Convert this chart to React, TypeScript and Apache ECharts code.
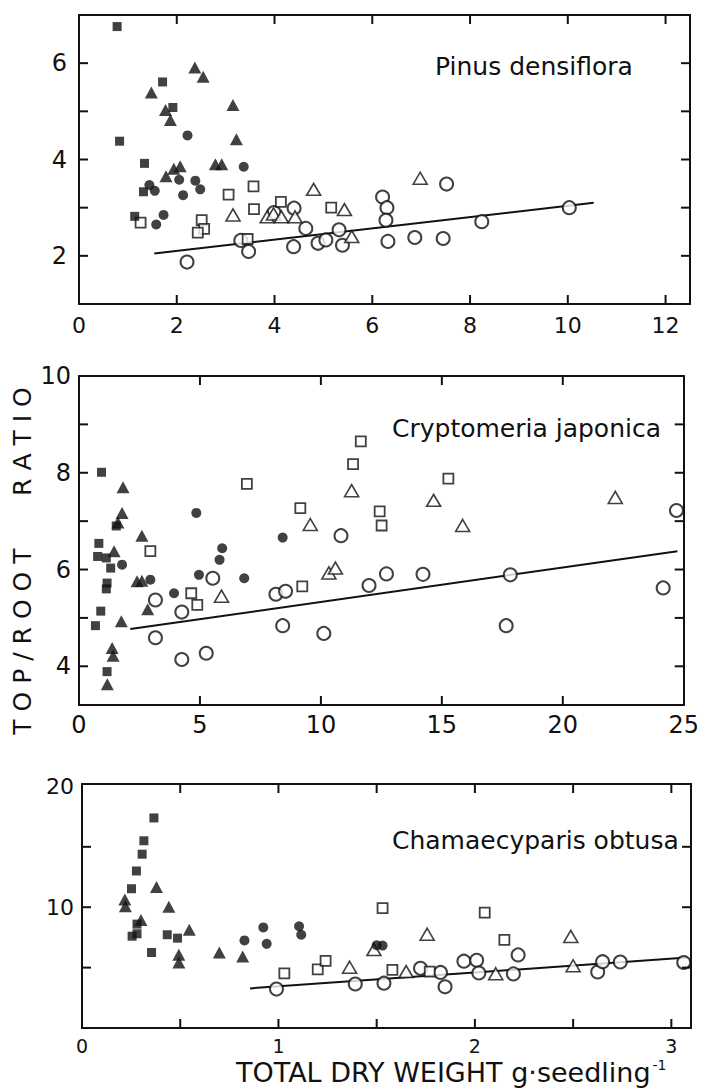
import React, { useEffect, useRef } from "react";
import * as echarts from "echarts";

type Pt = [number, number];

// ---------- Pinus densiflora ----------
const pinusFilledSquare: Pt[] = [[0.78, 6.76], [0.83, 4.38], [1.71, 5.61], [1.92, 5.08], [1.34, 3.92], [1.32, 3.33], [1.14, 2.82]];
const pinusFilledTriangle: Pt[] = [[1.48, 5.39], [2.37, 5.91], [2.54, 5.72], [1.77, 5.03], [1.87, 4.82], [3.15, 5.13], [3.22, 4.42], [1.78, 3.65], [1.94, 3.81], [2.07, 3.86], [2.79, 3.9], [2.92, 3.9]];
const pinusFilledCircle: Pt[] = [[2.22, 4.5], [3.37, 3.85], [1.44, 3.47], [1.55, 3.35], [2.05, 3.58], [2.38, 3.56], [2.48, 3.38], [2.13, 3.26], [1.73, 2.85], [1.58, 2.65]];
const pinusOpenSquare: Pt[] = [[1.26, 2.69], [3.06, 3.27], [3.57, 3.44], [3.58, 2.97], [2.51, 2.74], [2.56, 2.56], [2.43, 2.48], [4.13, 3.12], [3.45, 2.35], [5.16, 3.0]];
const pinusOpenTriangle: Pt[] = [[3.15, 2.85], [3.85, 2.81], [3.98, 2.87], [4.14, 2.81], [4.42, 2.81], [4.8, 3.38], [5.43, 2.96], [5.58, 2.4], [6.98, 3.61]];
const pinusOpenCircle: Pt[] = [[2.21, 1.87], [3.31, 2.32], [3.47, 2.09], [3.99, 2.9], [4.4, 2.99], [4.64, 2.57], [4.39, 2.19], [4.89, 2.26], [5.05, 2.33], [5.32, 2.54], [5.39, 2.22], [6.21, 3.22], [6.3, 3.0], [6.28, 2.74], [6.32, 2.3], [6.87, 2.38], [7.45, 2.36], [7.52, 3.49], [8.24, 2.71], [10.03, 3.0]];
const pinusLine: Pt[] = [[1.54, 2.05], [10.53, 3.1]];
const pinusXRange = [0, 12.5];
const pinusYRange = [1, 7];
const pinusXTicks = [2, 4, 6, 8, 10, 12];
const pinusXLabels = [0, 2, 4, 6, 8, 10, 12];
const pinusYTicks = [2, 3, 4, 5, 6];
const pinusYLabels = [2, 4, 6];

// ---------- Cryptomeria japonica ----------
const cryptoFilledSquare: Pt[] = [[0.93, 8.01], [0.82, 6.54], [0.77, 6.27], [1.13, 6.24], [1.31, 6.03], [1.16, 5.72], [1.13, 5.6], [0.9, 5.14], [0.68, 4.84], [1.16, 3.89], [1.54, 6.9]];
const cryptoFilledTriangle: Pt[] = [[1.82, 7.7], [1.78, 7.17], [1.61, 6.97], [2.6, 6.7], [1.45, 6.38], [2.4, 5.76], [2.6, 5.77], [2.84, 5.18], [1.75, 4.93], [1.37, 4.38], [1.41, 4.22], [1.17, 3.63], [0.97, 3.14]];
const cryptoFilledCircle: Pt[] = [[1.78, 6.1], [2.95, 5.79], [3.93, 5.51], [4.85, 7.17], [4.96, 5.89], [5.81, 6.2], [5.92, 6.44], [6.83, 5.82], [8.42, 6.66]];
const cryptoOpenSquare: Pt[] = [[2.95, 6.38], [4.64, 5.51], [4.89, 5.27], [6.94, 7.77], [9.15, 7.27], [9.23, 5.65], [11.33, 8.18], [11.65, 8.65], [12.43, 7.2], [12.51, 6.91], [15.27, 7.88]];
const cryptoOpenTriangle: Pt[] = [[5.89, 5.45], [9.56, 6.93], [10.33, 5.93], [10.6, 6.03], [11.27, 7.63], [14.66, 7.43], [15.86, 6.91], [22.17, 7.49]];
const cryptoOpenCircle: Pt[] = [[3.16, 5.37], [3.16, 4.59], [4.25, 5.12], [4.25, 4.14], [5.26, 4.27], [5.53, 5.82], [8.14, 5.49], [8.54, 5.55], [8.42, 4.84], [10.12, 4.68], [10.83, 6.7], [11.99, 5.67], [12.71, 5.91], [14.22, 5.9], [17.83, 5.89], [17.66, 4.84], [24.15, 5.62], [24.7, 7.22]];
const cryptoLine: Pt[] = [[2.12, 4.77], [24.74, 6.38]];
const cryptoXRange = [0, 25];
const cryptoYRange = [3.2, 10];
const cryptoXTicks = [5, 10, 15, 20];
const cryptoXLabels = [0, 5, 10, 15, 20, 25];
const cryptoYTicks = [4, 5, 6, 7, 8, 9];
const cryptoYLabels = [4, 6, 8, 10];

// ---------- Chamaecyparis obtusa ----------
const chamFilledSquare: Pt[] = [[0.366, 17.39], [0.315, 15.5], [0.306, 14.39], [0.277, 13.0], [0.252, 11.53], [0.28, 8.6], [0.255, 7.6], [0.28, 7.8], [0.354, 6.25], [0.434, 7.72], [0.486, 7.44]];
const chamFilledTriangle: Pt[] = [[0.218, 10.64], [0.221, 10.08], [0.379, 11.67], [0.442, 10.03], [0.3, 8.95], [0.546, 8.14], [0.493, 6.06], [0.493, 5.42], [0.699, 6.25], [0.818, 5.92]];
const chamFilledCircle: Pt[] = [[0.827, 7.25], [0.923, 8.33], [0.94, 6.97], [1.105, 8.42], [1.116, 7.72], [1.5, 6.85], [1.53, 6.82]];
const chamOpenSquare: Pt[] = [[1.03, 4.53], [1.2, 4.86], [1.24, 5.56], [1.53, 9.93], [2.05, 9.55], [2.15, 7.3], [1.58, 4.82], [1.77, 4.66]];
const chamOpenTriangle: Pt[] = [[1.362, 5.03], [1.486, 6.49], [1.65, 4.67], [1.757, 7.76], [2.106, 4.49], [2.488, 7.58], [2.5, 5.15]];
const chamOpenCircle: Pt[] = [[0.99, 3.22], [1.391, 3.64], [1.537, 3.71], [1.723, 4.94], [1.825, 4.6], [1.848, 3.41], [1.944, 5.53], [2.009, 5.61], [2.02, 4.55], [2.196, 4.48], [2.22, 6.05], [2.625, 4.64], [2.65, 5.49], [2.74, 5.46], [3.063, 5.42]];
const chamLine: Pt[] = [[0.855, 3.28], [3.08, 5.83]];
const chamXRange = [0, 3.1];
const chamYRange = [0, 20.2];
const chamXTicks = [0.5, 1, 1.5, 2, 2.5, 3];
const chamXLabels = [0, 1, 2, 3];
const chamYTicks = [5, 10, 15];
const chamYLabels = [10, 20];

const speciesNames = ["Pinus densiflora", "Cryptomeria japonica", "Chamaecyparis obtusa"];
const yTitle = "T O P / R O O T      \u2009R A T I O";
const xTitle = "TOTAL DRY WEIGHT g\u00B7seedling";

const FONT = "DejaVu Sans";
const BLACK = "#111";
const TICK_LEN = 9;

type Kind = "fsq" | "ftri" | "fcir" | "osq" | "otri" | "ocir";

function markerStyle(kind: Kind) {
  switch (kind) {
    case "fsq":
      return { symbol: "rect", symbolSize: 9, itemStyle: { color: BLACK } };
    case "ftri":
      return { symbol: "triangle", symbolSize: [13, 12], itemStyle: { color: BLACK } };
    case "fcir":
      return { symbol: "circle", symbolSize: 10, itemStyle: { color: BLACK } };
    case "osq":
      return { symbol: "rect", symbolSize: 10, itemStyle: { color: "#fff", borderColor: BLACK, borderWidth: 1.8 } };
    case "otri":
      return { symbol: "triangle", symbolSize: [14, 12], itemStyle: { color: "#fff", borderColor: BLACK, borderWidth: 1.6 } };
    default:
      return { symbol: "circle", symbolSize: 13, itemStyle: { color: "#fff", borderColor: BLACK, borderWidth: 2 } };
  }
}

function scatter(data: Pt[], kind: Kind, g: number) {
  return { type: "scatter", xAxisIndex: g * 2, yAxisIndex: g * 2, data, z: 3, ...markerStyle(kind) };
}

function regLine(data: Pt[], g: number) {
  return {
    type: "line",
    xAxisIndex: g * 2,
    yAxisIndex: g * 2,
    data,
    symbol: "none",
    z: 2,
    lineStyle: { color: BLACK, width: 2 },
  };
}

function axis(g: number, position: string, range: number[], labels: number[] | null, fontSize: number, margin: number) {
  return {
    type: "value",
    gridIndex: g,
    position,
    min: range[0],
    max: range[1],
    axisLine: { show: true, onZero: false, lineStyle: { color: BLACK, width: 2 } },
    axisTick: { show: false },
    axisLabel: labels
      ? { show: true, customValues: labels, fontSize, color: BLACK, fontFamily: FONT, margin }
      : { show: false },
    splitLine: { show: false },
  };
}

const panels = [
  { xr: pinusXRange, yr: pinusYRange, xt: pinusXTicks, yt: pinusYTicks },
  { xr: cryptoXRange, yr: cryptoYRange, xt: cryptoXTicks, yt: cryptoYTicks },
  { xr: chamXRange, yr: chamYRange, xt: chamXTicks, yt: chamYTicks },
];

export default function App() {
  const ref = useRef<HTMLDivElement>(null);
  useEffect(() => {
    if (!ref.current) return;
    const chart = echarts.init(ref.current, undefined, { renderer: "svg" });
    const option: any = {
      animation: false,
      backgroundColor: "#fff",
      grid: [
        { left: 79, top: 15, width: 611, height: 289 },
        { left: 79, top: 376, width: 611, height: 329 },
        { left: 82, top: 784, width: 609, height: 244 },
      ],
      xAxis: [
        axis(0, "bottom", pinusXRange, pinusXLabels, 22, 10),
        axis(0, "top", pinusXRange, null, 22, 8),
        axis(1, "bottom", cryptoXRange, cryptoXLabels, 24, 8),
        axis(1, "top", cryptoXRange, null, 22, 8),
        axis(2, "bottom", chamXRange, chamXLabels, 19, 8),
        axis(2, "top", chamXRange, null, 22, 8),
      ],
      yAxis: [
        axis(0, "left", pinusYRange, pinusYLabels, 24, 12),
        axis(0, "right", pinusYRange, null, 22, 8),
        axis(1, "left", cryptoYRange, cryptoYLabels, 24, 8),
        axis(1, "right", cryptoYRange, null, 22, 8),
        axis(2, "left", chamYRange, chamYLabels, 22, 8),
        axis(2, "right", chamYRange, null, 22, 8),
      ],
      series: [
        regLine(pinusLine, 0),
        scatter(pinusOpenCircle, "ocir", 0),
        scatter(pinusOpenTriangle, "otri", 0),
        scatter(pinusOpenSquare, "osq", 0),
        scatter(pinusFilledCircle, "fcir", 0),
        scatter(pinusFilledTriangle, "ftri", 0),
        scatter(pinusFilledSquare, "fsq", 0),

        regLine(cryptoLine, 1),
        scatter(cryptoOpenCircle, "ocir", 1),
        scatter(cryptoOpenTriangle, "otri", 1),
        scatter(cryptoOpenSquare, "osq", 1),
        scatter(cryptoFilledCircle, "fcir", 1),
        scatter(cryptoFilledTriangle, "ftri", 1),
        scatter(cryptoFilledSquare, "fsq", 1),

        regLine(chamLine, 2),
        scatter(chamOpenCircle, "ocir", 2),
        scatter(chamOpenTriangle, "otri", 2),
        scatter(chamOpenSquare, "osq", 2),
        scatter(chamFilledCircle, "fcir", 2),
        scatter(chamFilledTriangle, "ftri", 2),
        scatter(chamFilledSquare, "fsq", 2),
      ],
    };
    chart.setOption(option);

    // Inward tick marks on all four sides, positioned through the axes' scales
    const ticks: any[] = [];
    const seg = (x1: number, y1: number, x2: number, y2: number) => ({
      type: "line",
      silent: true,
      z: 10,
      shape: { x1, y1, x2, y2 },
      style: { stroke: BLACK, lineWidth: 2 },
    });
    panels.forEach((p, g) => {
      const finder = { xAxisIndex: g * 2, yAxisIndex: g * 2 } as any;
      p.xt.forEach((v) => {
        const b = chart.convertToPixel(finder, [v, p.yr[0]]) as number[];
        const t = chart.convertToPixel(finder, [v, p.yr[1]]) as number[];
        ticks.push(seg(b[0], b[1], b[0], b[1] - TICK_LEN));
        ticks.push(seg(t[0], t[1], t[0], t[1] + TICK_LEN));
      });
      p.yt.forEach((v) => {
        const l = chart.convertToPixel(finder, [p.xr[0], v]) as number[];
        const r = chart.convertToPixel(finder, [p.xr[1], v]) as number[];
        ticks.push(seg(l[0], l[1], l[0] + TICK_LEN, l[1]));
        ticks.push(seg(r[0], r[1], r[0] - TICK_LEN, r[1]));
      });
    });

    const texts: any[] = [
      {
        type: "text",
        x: 435,
        y: 66,
        style: { text: speciesNames[0], font: `25px '${FONT}'`, fill: BLACK, align: "left", verticalAlign: "middle" },
      },
      {
        type: "text",
        x: 392,
        y: 428,
        style: { text: speciesNames[1], font: `25px '${FONT}'`, fill: BLACK, align: "left", verticalAlign: "middle" },
      },
      {
        type: "text",
        x: 392,
        y: 840,
        style: { text: speciesNames[2], font: `25px '${FONT}'`, fill: BLACK, align: "left", verticalAlign: "middle" },
      },
      {
        type: "text",
        x: 22,
        y: 561,
        rotation: Math.PI / 2,
        style: { text: yTitle, font: `25px '${FONT}'`, fill: BLACK, align: "center", verticalAlign: "middle" },
      },
      {
        type: "text",
        x: 236,
        y: 1072,
        style: {
          text: `{m|${xTitle}}{s|-1}`,
          fill: BLACK,
          align: "left",
          verticalAlign: "middle",
          rich: {
            m: { fontSize: 27, fontFamily: FONT, fill: BLACK },
            s: { fontSize: 14, fontFamily: FONT, fill: BLACK, verticalAlign: "top", padding: [0, 0, 14, 2] },
          },
        },
      },
    ];

    chart.setOption({ graphic: [...ticks, ...texts] });
    return () => chart.dispose();
  }, []);
  return <div ref={ref} style={{ position: "absolute", left: 0, top: 0, width: 702, height: 1089 }} />;
}
